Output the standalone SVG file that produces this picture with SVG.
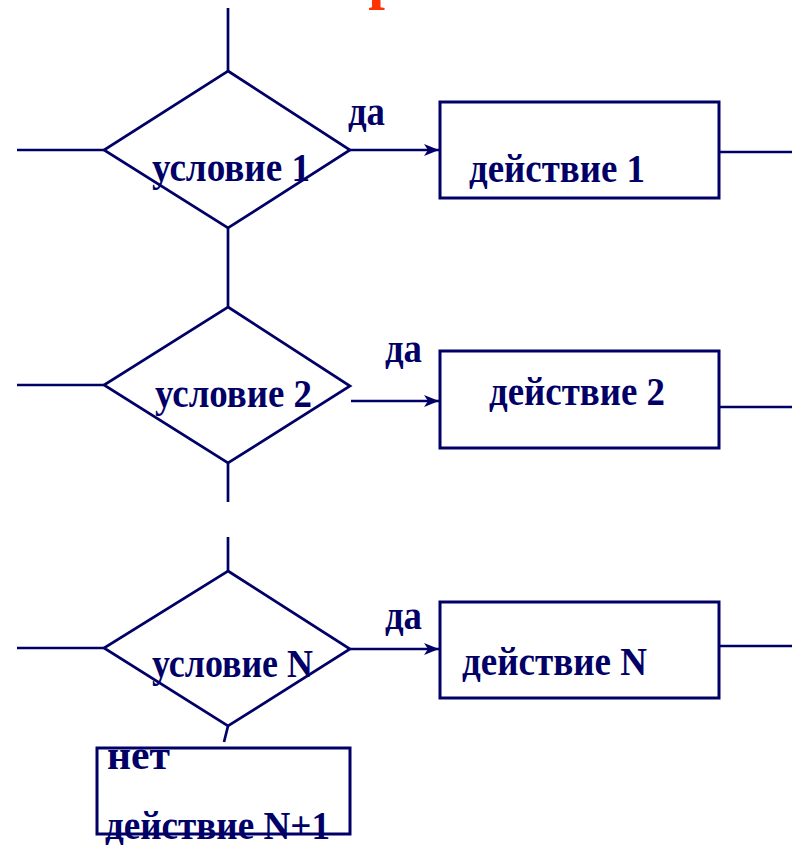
<svg xmlns="http://www.w3.org/2000/svg" width="792" height="845" viewBox="0 0 792 845">
<style>
.shape{fill:none;stroke:#000066;stroke-width:3}
.ln{fill:none;stroke:#000066;stroke-width:2.7}
.t{font-family:"Liberation Serif","Times New Roman",serif;font-weight:bold;font-size:40px;fill:#000066}
</style>
<defs>
<marker id="arr" markerUnits="userSpaceOnUse" markerWidth="16" markerHeight="14" refX="15" refY="7" orient="auto">
<path d="M0,1 L15,7 L0,13 L4,7 z" fill="#000066"/>
</marker>
</defs>
<rect width="792" height="845" fill="#ffffff"/>
<text x="385" y="-3" font-family="Liberation Serif, serif" font-weight="bold" font-size="60" fill="#ff3300" text-anchor="middle">р</text>
<g id="connectors">
<line class="ln" x1="228" y1="8" x2="228" y2="71"/>
<line class="ln" x1="17" y1="150" x2="104" y2="150"/>
<line class="ln" x1="350" y1="150" x2="386" y2="150"/>
<line class="ln" x1="386" y1="150" x2="439" y2="150" marker-end="url(#arr)"/>
<line class="ln" x1="719" y1="152" x2="792" y2="152"/>
<line class="ln" x1="228" y1="228" x2="228" y2="307"/>
<line class="ln" x1="17" y1="385" x2="104" y2="385"/>
<line class="ln" x1="351" y1="401" x2="386" y2="401"/>
<line class="ln" x1="386" y1="401" x2="439" y2="401" marker-end="url(#arr)"/>
<line class="ln" x1="719" y1="407" x2="792" y2="407"/>
<line class="ln" x1="228" y1="463" x2="228" y2="502"/>
<line class="ln" x1="228" y1="537" x2="228" y2="571"/>
<line class="ln" x1="17" y1="648" x2="104" y2="648"/>
<line class="ln" x1="350" y1="649" x2="403" y2="649"/>
<line class="ln" x1="403" y1="649" x2="439" y2="649" marker-end="url(#arr)"/>
<line class="ln" x1="719" y1="646" x2="792" y2="646"/>
<line class="ln" x1="228" y1="726" x2="224" y2="742"/>
</g>
<g id="cond1">
<polygon class="ln" points="228,71 350,150 228,228 104,150"/>
<text class="t" x="152" y="181" textLength="158" lengthAdjust="spacingAndGlyphs">условие 1</text>
<text class="t" x="348" y="125" textLength="37" lengthAdjust="spacingAndGlyphs">да</text>
</g>
<g id="act1">
<rect class="shape" x="440" y="102" width="279" height="96"/>
<text class="t" x="469" y="182" textLength="176" lengthAdjust="spacingAndGlyphs">действие 1</text>
</g>
<g id="cond2">
<polygon class="ln" points="228,307 350,386 228,463 104,385"/>
<text class="t" x="155" y="407" textLength="157" lengthAdjust="spacingAndGlyphs">условие 2</text>
<text class="t" x="385" y="362" textLength="37" lengthAdjust="spacingAndGlyphs">да</text>
</g>
<g id="act2">
<rect class="shape" x="440" y="351" width="279" height="97"/>
<text class="t" x="489" y="405" textLength="176" lengthAdjust="spacingAndGlyphs">действие 2</text>
</g>
<g id="condN">
<polygon class="ln" points="228,571 350,649 228,726 104,648"/>
<text class="t" x="152" y="677" textLength="161" lengthAdjust="spacingAndGlyphs">условие N</text>
<text class="t" x="385" y="629" textLength="37" lengthAdjust="spacingAndGlyphs">да</text>
</g>
<g id="actN">
<rect class="shape" x="440" y="602" width="279" height="96"/>
<text class="t" x="462" y="675" textLength="185" lengthAdjust="spacingAndGlyphs">действие N</text>
</g>
<g id="actN1">
<rect class="shape" x="97" y="748" width="253" height="86"/>
<text class="t" x="107" y="769" textLength="63" lengthAdjust="spacingAndGlyphs">нет</text>
<text class="t" x="105" y="839" textLength="225" lengthAdjust="spacingAndGlyphs">действие N+1</text>
</g>
</svg>
